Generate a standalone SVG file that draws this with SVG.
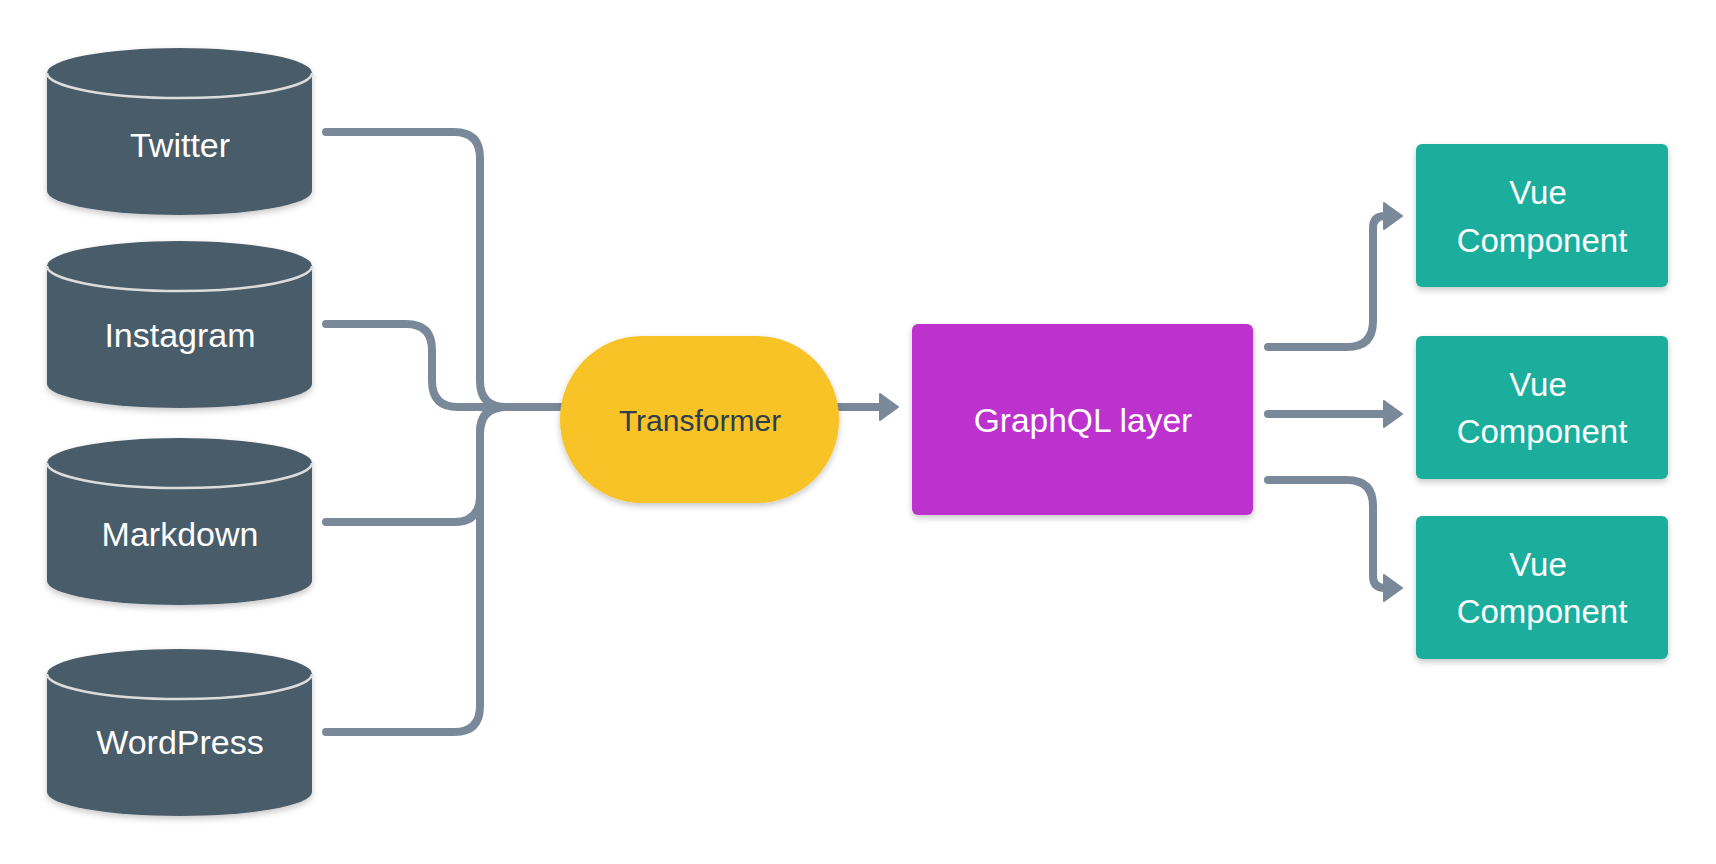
<svg xmlns="http://www.w3.org/2000/svg" width="1716" height="864" viewBox="0 0 1716 864">
<defs>
<style>
.cyl{fill:#4a5b6a}
.seam{fill:none;stroke:#dcdcdc;stroke-width:2.5}
.lbl{font-family:"Liberation Sans",Arial,sans-serif;fill:#ffffff;text-anchor:middle}
.conn{fill:none;stroke:#7a8999;stroke-width:8;stroke-linecap:round;stroke-linejoin:round}
</style>
<filter id="sh" x="-10%" y="-10%" width="120%" height="130%">
<feDropShadow dx="0" dy="3" stdDeviation="3" flood-color="#000" flood-opacity="0.22"/>
</filter>
<marker id="ah" viewBox="0 0 20 28" markerUnits="userSpaceOnUse" markerWidth="20" markerHeight="28" refX="7" refY="14" orient="auto">
<path d="M1,1 L19,14 L1,27 Z" fill="#7a8999" stroke="#7a8999" stroke-width="2" stroke-linejoin="round"/>
</marker>
</defs>
<rect width="1716" height="864" fill="#ffffff"/>

<g id="twitter">
<path class="cyl" filter="url(#sh)" d="M47,73 L47,191 A132.5,24 0 0 0 312,191 L312,73 A132.5,25 0 0 0 47,73 Z"/>
<path class="seam" d="M47,73 A132.5,25 0 0 0 312,73"/>
<text class="lbl" x="180" y="157" font-size="34">Twitter</text>
</g>
<g id="instagram">
<path class="cyl" filter="url(#sh)" d="M47,266 L47,384 A132.5,24 0 0 0 312,384 L312,266 A132.5,25 0 0 0 47,266 Z"/>
<path class="seam" d="M47,266 A132.5,25 0 0 0 312,266"/>
<text class="lbl" x="180" y="347" font-size="34">Instagram</text>
</g>
<g id="markdown">
<path class="cyl" filter="url(#sh)" d="M47,463 L47,581 A132.5,24 0 0 0 312,581 L312,463 A132.5,25 0 0 0 47,463 Z"/>
<path class="seam" d="M47,463 A132.5,25 0 0 0 312,463"/>
<text class="lbl" x="180" y="546" font-size="34">Markdown</text>
</g>
<g id="wordpress">
<path class="cyl" filter="url(#sh)" d="M47,674 L47,792 A132.5,24 0 0 0 312,792 L312,674 A132.5,25 0 0 0 47,674 Z"/>
<path class="seam" d="M47,674 A132.5,25 0 0 0 312,674"/>
<text class="lbl" x="180" y="754" font-size="34">WordPress</text>
</g>

<g id="connectors">
<path class="conn" d="M326,132 H454 Q480,132 480,158 V381 Q480,407 506,407 H562"/>
<path class="conn" d="M326,324 H406 Q432,324 432,350 V381 Q432,407 458,407 H562"/>
<path class="conn" d="M326,522 H454 Q480,522 480,496 V433 Q480,407 506,407"/>
<path class="conn" d="M326,732 H454 Q480,732 480,706 V433 Q480,407 506,407"/>
<path class="conn" d="M836,407 H886" marker-end="url(#ah)"/>
<path class="conn" d="M1268,347 H1347 Q1373,347 1373,321 V228 Q1373,216 1385,216 H1390" marker-end="url(#ah)"/>
<path class="conn" d="M1268,414 H1390" marker-end="url(#ah)"/>
<path class="conn" d="M1268,480 H1347 Q1373,480 1373,506 V576 Q1373,588 1385,588 H1390" marker-end="url(#ah)"/>
</g>

<g id="transformer">
<rect x="560" y="336" width="279" height="167" rx="82" ry="83" fill="#f7c325" filter="url(#sh)"/>
<text x="700" y="431" font-size="30" font-family="Liberation Sans, Arial, sans-serif" fill="#2f3e4c" text-anchor="middle">Transformer</text>
</g>

<g id="graphql">
<rect x="912" y="324" width="341" height="191" rx="6" fill="#bd33cf" filter="url(#sh)"/>
<text class="lbl" x="1083" y="432" font-size="33.5">GraphQL layer</text>
</g>

<g id="vue1">
<rect x="1416" y="144" width="252" height="143" rx="6" fill="#1cae9c" filter="url(#sh)"/>
<text class="lbl" x="1538" y="204" font-size="33">Vue</text>
<text class="lbl" x="1542" y="252" font-size="33">Component</text>
</g>
<g id="vue2">
<rect x="1416" y="336" width="252" height="143" rx="6" fill="#1cae9c" filter="url(#sh)"/>
<text class="lbl" x="1538" y="396" font-size="33">Vue</text>
<text class="lbl" x="1542" y="443" font-size="33">Component</text>
</g>
<g id="vue3">
<rect x="1416" y="516" width="252" height="143" rx="6" fill="#1cae9c" filter="url(#sh)"/>
<text class="lbl" x="1538" y="576" font-size="33">Vue</text>
<text class="lbl" x="1542" y="623" font-size="33">Component</text>
</g>
</svg>
